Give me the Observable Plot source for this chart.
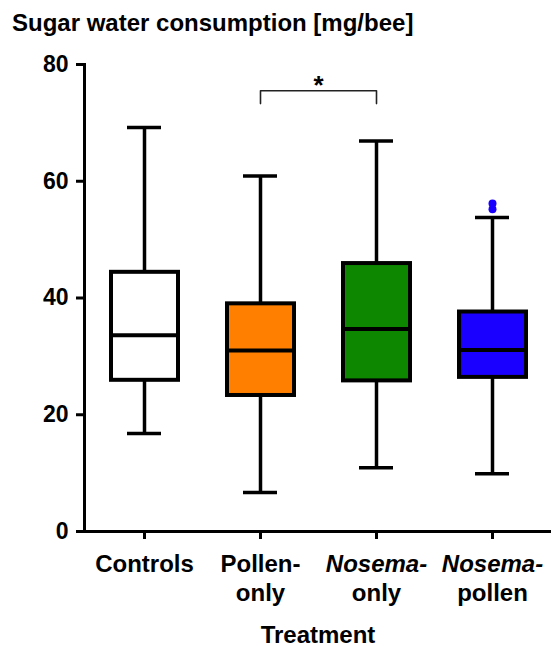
<!DOCTYPE html>
<html>
<head>
<meta charset="utf-8">
<script src="https://cdn.jsdelivr.net/npm/d3@7"></script>
<script src="https://cdn.jsdelivr.net/npm/@observablehq/plot@0.6"></script>
<style>
  html, body { margin: 0; padding: 0; background: #fff; }
  body { width: 551px; height: 646px; overflow: hidden; font-family: "Liberation Sans", Arial, sans-serif; }
  #title { box-sizing: border-box; height: 40px; padding: 11px 0 0 12px; font-size: 24px; line-height: 24px; font-weight: bold; color: #000; white-space: nowrap; }
</style>
</head>
<body>
<div id="title">Sugar water consumption [mg/bee]</div>
<div id="chart"></div>
<script>
// ---- data ----
const groups = ["Controls", "Pollen-only", "Nosema-only", "Nosema-pollen"];
const tickLines = [["Controls"], ["Pollen-", "only"], ["Nosema-", "only"], ["Nosema-", "pollen"]];
const whiskerLow = [16.8, 6.7, 10.9, 9.9];
const q1 = [25.9, 23.3, 25.8, 26.4];
const median = [33.6, 31.0, 34.7, 31.1];
const q3 = [44.4, 39.0, 45.9, 37.6];
const whiskerHigh = [69.2, 60.9, 66.9, 53.8];
const fills = ["#ffffff", "#ff8000", "#0e8700", "#1a00ff"];
const outlierGroup = ["Nosema-pollen", "Nosema-pollen"];
const outlierValue = [56.2, 55.2];
const yTicks = [0, 20, 40, 60, 80];
const bracketGroups = ["Pollen-only", "Pollen-only", "Nosema-only", "Nosema-only"];
const bracketValues = [73.3, 75.5, 75.5, 73.3];
const bracketLabel = "*";
const xTitle = "Treatment";

// ---- tables built from the arrays ----
const rows = groups.map((g, i) => ({
  group: g, lo: whiskerLow[i], q1: q1[i], median: median[i], q3: q3[i], hi: whiskerHigh[i], fill: fills[i]
}));
const outliers = outlierGroup.map((g, i) => ({group: g, value: outlierValue[i]}));
const bracket = bracketGroups.map((g, i) => ({group: g, value: bracketValues[i]}));
const labelFor = Object.fromEntries(groups.map((g, i) => [g, tickLines[i].join("\n")]));

const font = "'Liberation Sans', Arial, Helvetica, sans-serif";

const chart = Plot.plot({
  width: 551,
  height: 606,
  marginTop: 24,
  marginBottom: 115,
  marginLeft: 84,
  marginRight: 0,
  style: {fontFamily: font, background: "#fff", color: "#000", overflow: "visible"},
  x: {domain: groups, padding: 0, label: null},
  y: {domain: [0, 80], label: null},
  color: {type: "identity"},
  marks: [
    Plot.axisY({ticks: yTicks, tickSize: 8, tickPadding: 8, fontSize: 23, fontWeight: "bold", strokeWidth: 3, label: null}),
    Plot.axisX({tickSize: 8, tickPadding: 13, fontSize: 24, fontWeight: "bold", strokeWidth: 3, lineHeight: 1.17,
                tickFormat: d => labelFor[d], label: null}),
    Plot.text([xTitle], {frameAnchor: "bottom", lineAnchor: "top", dy: 94, fontSize: 24, fontWeight: "bold"}),
    Plot.frame({anchor: "left", strokeWidth: 3}),
    Plot.frame({anchor: "bottom", strokeWidth: 3}),
    // whiskers
    Plot.ruleX(rows, {x: "group", y1: "q3", y2: "hi", strokeWidth: 3.5}),
    Plot.ruleX(rows, {x: "group", y1: "lo", y2: "q1", strokeWidth: 3.5}),
    Plot.tickY(rows, {x: "group", y: "hi", insetLeft: 41, insetRight: 41, strokeWidth: 3.5}),
    Plot.tickY(rows, {x: "group", y: "lo", insetLeft: 41, insetRight: 41, strokeWidth: 3.5}),
    // boxes
    Plot.barY(rows, {x: "group", y1: "q1", y2: "q3", fill: "fill", stroke: "#000", strokeWidth: 4, insetLeft: 25, insetRight: 24}),
    Plot.tickY(rows, {x: "group", y: "median", insetLeft: 25, insetRight: 24, strokeWidth: 4}),
    // outliers
    Plot.dot(outliers, {x: "group", y: "value", r: 4, fill: fills[3], stroke: null}),
    // significance bracket
    Plot.line(bracket, {x: "group", y: "value", stroke: "#222", strokeWidth: 1.6}),
    Plot.text([bracketLabel], {x: () => bracketGroups[1], y: () => bracketValues[1], dx: 58, dy: -5, fontSize: 26, fontWeight: "bold"})
  ]
});

d3.select(chart).selectAll("tspan")
  .filter(function() { return this.textContent.startsWith("Nosema"); })
  .attr("font-style", "italic");

document.getElementById("chart").appendChild(chart);
</script>
</body>
</html>
